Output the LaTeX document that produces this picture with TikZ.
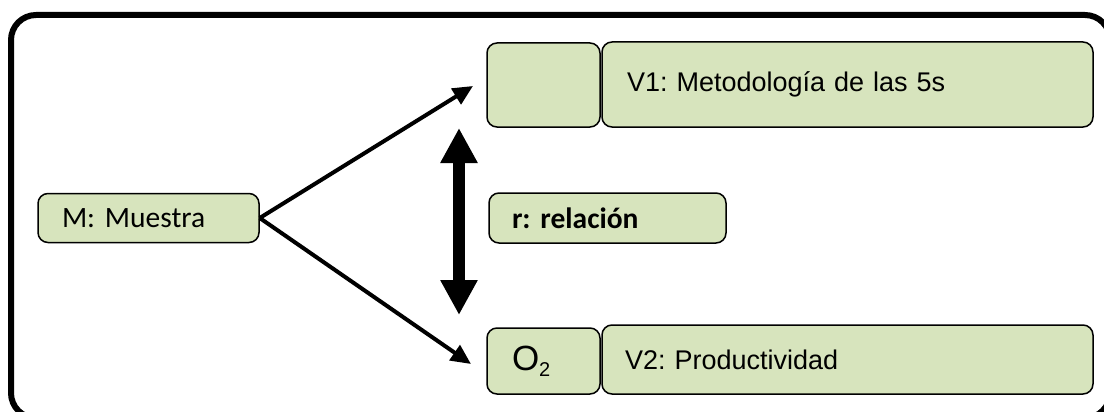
\documentclass[tikz,border=0pt]{standalone}
\usepackage{fontspec}
\setmainfont{Liberation Sans}
\newfontfamily\calibrifont{Carlito}
\usetikzlibrary{arrows.meta}
\definecolor{boxgreen}{HTML}{D7E4BD}
\frenchspacing
\tikzset{
  gbox/.style={draw=black, line width=1.5pt, fill=boxgreen, rounded corners=10pt,
    inner ysep=0pt, align=left},
  thinarrow/.style={line width=4pt, -{Triangle[length=20pt,width=18pt]}},
  bigarrow/.style={line width=12pt, {Triangle[length=35pt,width=35pt]}-{Triangle[length=35pt,width=35pt]}},
}
\begin{document}
\begin{tikzpicture}[x=1pt,y=-1pt]
\useasboundingbox (0,0) rectangle (1104,412);
% outer frame, partly running off the page
\begin{scope}
\clip (0,0) rectangle (1104,412);
\draw[line width=6pt, rounded corners=25pt] (11,15) rectangle (1110,418);
\end{scope}

% sample
\node[gbox, font=\calibrifont\fontsize{29.5}{34}\selectfont, minimum height=49pt,
      inner xsep=24pt, text width=173pt] (M) at (148.5,218) {M: Muestra};

% relation
\node[gbox, font=\calibrifont\bfseries\fontsize{29.5}{34}\selectfont, minimum height=50pt,
      inner xsep=23pt, text width=191pt] (R) at (607.5,218) {r: relación};

% variable 1
\node[gbox, minimum width=113pt, minimum height=84pt] (O1) at (543.5,85) {};
\node[gbox, font=\fontsize{27}{31}\selectfont, minimum height=85pt,
      inner xsep=25pt, text width=441pt] (V1) at (847.5,84.5) {V1: Metodología de las 5s};

% variable 2
\node[gbox, font=\fontsize{35}{40}\selectfont, minimum height=66pt,
      inner xsep=25pt, text width=63pt] (O2) at (543.5,361) {O\raisebox{-0.18em}{\fontsize{20}{24}\selectfont 2}};
\node[gbox, font=\fontsize{27}{31}\selectfont, minimum height=69pt,
      inner xsep=23pt, text width=445pt] (V2) at (847.5,359.5) {V2: Productividad};

% connectors
\coordinate (t1) at (473,86);
\coordinate (t2) at (471,364);
\coordinate (up) at (459,128);
\coordinate (dn) at (459,315);
\draw[thinarrow] (M.east) -- (t1);
\draw[thinarrow] (M.east) -- (t2);
\draw[bigarrow] (up) -- (dn);
\end{tikzpicture}
\end{document}
